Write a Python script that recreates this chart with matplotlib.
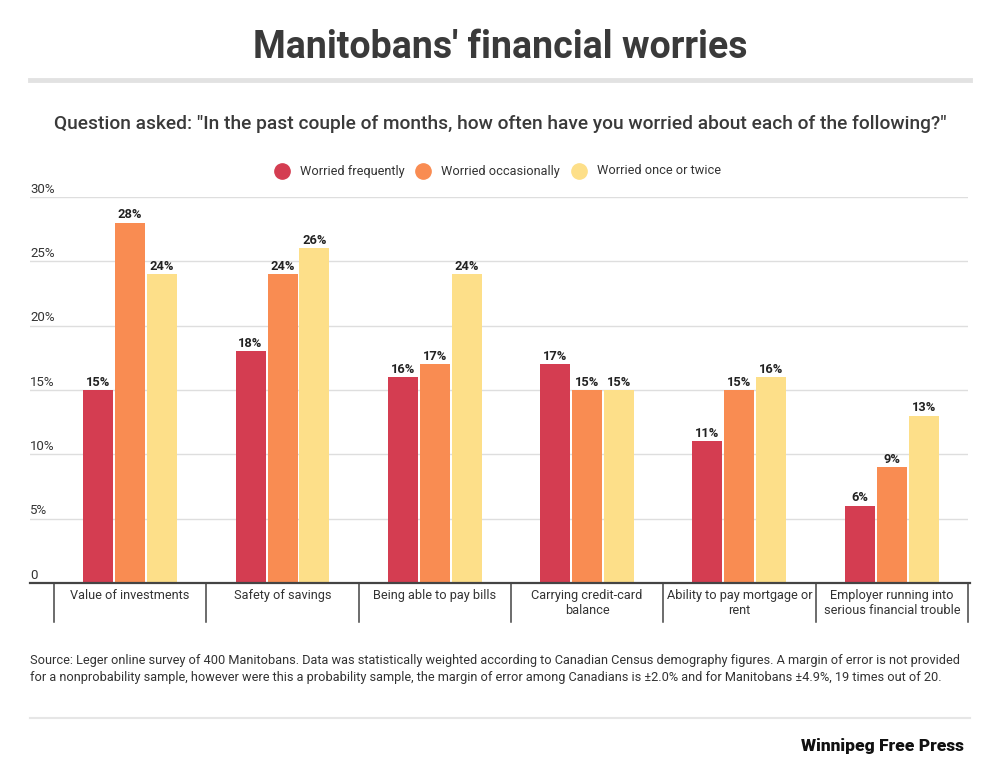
import matplotlib
matplotlib.use("Agg")
import matplotlib.pyplot as plt
from matplotlib.lines import Line2D
import numpy as np

categories = ["Value of investments", "Safety of savings", "Being able to pay bills",
              "Carrying credit-card\nbalance", "Ability to pay mortgage or\nrent",
              "Employer running into\nserious financial trouble"]
series_names = ["Worried frequently", "Worried occasionally", "Worried once or twice"]
frequently = [15, 18, 16, 17, 11, 6]
occasionally = [28, 24, 17, 15, 15, 9]
once_twice = [24, 26, 24, 15, 16, 13]
yticks = [0, 5, 10, 15, 20, 25, 30]
ytick_labels = ["0", "5%", "10%", "15%", "20%", "25%", "30%"]

colors = ["#D43D51", "#F98C52", "#FDDF89"]
NARROW = ["Liberation Sans Narrow", "Roboto", "DejaVu Sans"]
BODY = ["Roboto", "DejaVu Sans"]
TXT = "#333333"

W, H = 1000, 779
fig = plt.figure(figsize=(W / 100, H / 100), dpi=100)

def fx(px):
    return px / W

def fy(py):
    return 1 - py / H

# Title and subtitle
fig.text(0.5, fy(47), "Manitobans' financial worries", ha="center", va="center",
         fontsize=27, fontweight="bold", family=NARROW, color="#3a3a3a")
fig.add_artist(Line2D([fx(30), fx(970)], [fy(80), fy(80)], color="#e2e2e2", lw=3.5))
fig.text(0.5, fy(124), 'Question asked: "In the past couple of months, how often have you worried about each of the following?"',
         ha="center", va="center", fontsize=13.8, fontweight="medium", family=NARROW, color="#3a3a3a")

# Legend
leg_x = [282, 423, 579]
for i, name in enumerate(series_names):
    fig.add_artist(Line2D([fx(leg_x[i])], [fy(171)], marker="o", markersize=11,
                          color=colors[i], linestyle="none"))
    fig.text(fx(leg_x[i] + 18), fy(171), name, ha="left", va="center",
             fontsize=9.2, family=NARROW, color=TXT)

# Axes
ax_left, ax_right, ax_bottom, ax_top = 30, 968, 583, 197
ax = fig.add_axes([fx(ax_left), fy(ax_bottom), fx(ax_right - ax_left), (ax_bottom - ax_top) / H])
unit = (968 - 54) / 6.0
xmin = -0.5 - (54 - ax_left) / unit
ax.set_xlim(xmin, 5.5)
ax.set_ylim(0, 30)
for s in ax.spines.values():
    s.set_visible(False)
ax.set_xticks([])
ax.set_yticks([])

x = np.arange(len(categories))
bw = 30 / unit
off = 32 / unit
for i, vals in enumerate([frequently, occasionally, once_twice]):
    pos = x + (i - 1) * off
    ax.bar(pos, vals, width=bw, color=colors[i], zorder=3)
    for p, v in zip(pos, vals):
        ax.annotate(f"{v}%", (p, v), xytext=(0, 1), textcoords="offset points",
                    ha="center", va="bottom", fontsize=9.3, fontweight="bold",
                    family=BODY, color="#222222", zorder=4)

for t, lab in zip(yticks, ytick_labels):
    if t > 0:
        ax.axhline(t, color="#dedede", lw=1, zorder=1)
    ax.annotate(lab, (xmin, t), xytext=(0, 1), textcoords="offset points",
                ha="left", va="bottom", fontsize=9.5, family=BODY, color=TXT)
ax.plot([xmin, 5.5 + 2 / unit], [0, 0], color="#444444", lw=1.6, zorder=5, clip_on=False)

ypx = 30 / (ax_bottom - ax_top)
for i in range(len(categories) + 1):
    ax.plot([-0.5 + i, -0.5 + i], [0, -39 * ypx], color="#444444", lw=1.1, clip_on=False)
for i, c in enumerate(categories):
    ax.text(i, -6 * ypx, c, ha="center", va="top", fontsize=9.2, family=BODY,
            color=TXT, linespacing=1.15)

# Source
src = ("Source: Leger online survey of 400 Manitobans. Data was statistically weighted according to Canadian Census demography figures. A margin of error is not provided\n"
       "for a nonprobability sample, however were this a probability sample, the margin of error among Canadians is \u00b12.0% and for Manitobans \u00b14.9%, 19 times out of 20.")
fig.text(fx(30), fy(669), src, ha="left", va="center", fontsize=9.2, family=BODY,
         color=TXT, linespacing=1.45)
fig.add_artist(Line2D([fx(30), fx(970)], [fy(718), fy(718)], color="#e6e6e6", lw=1.5))
fig.text(fx(964), fy(746), "Winnipeg Free Press", ha="right", va="center",
         fontsize=12.5, fontweight="heavy", family=NARROW, color="#111111")

fig.savefig("out.png", dpi=100, facecolor="white")
